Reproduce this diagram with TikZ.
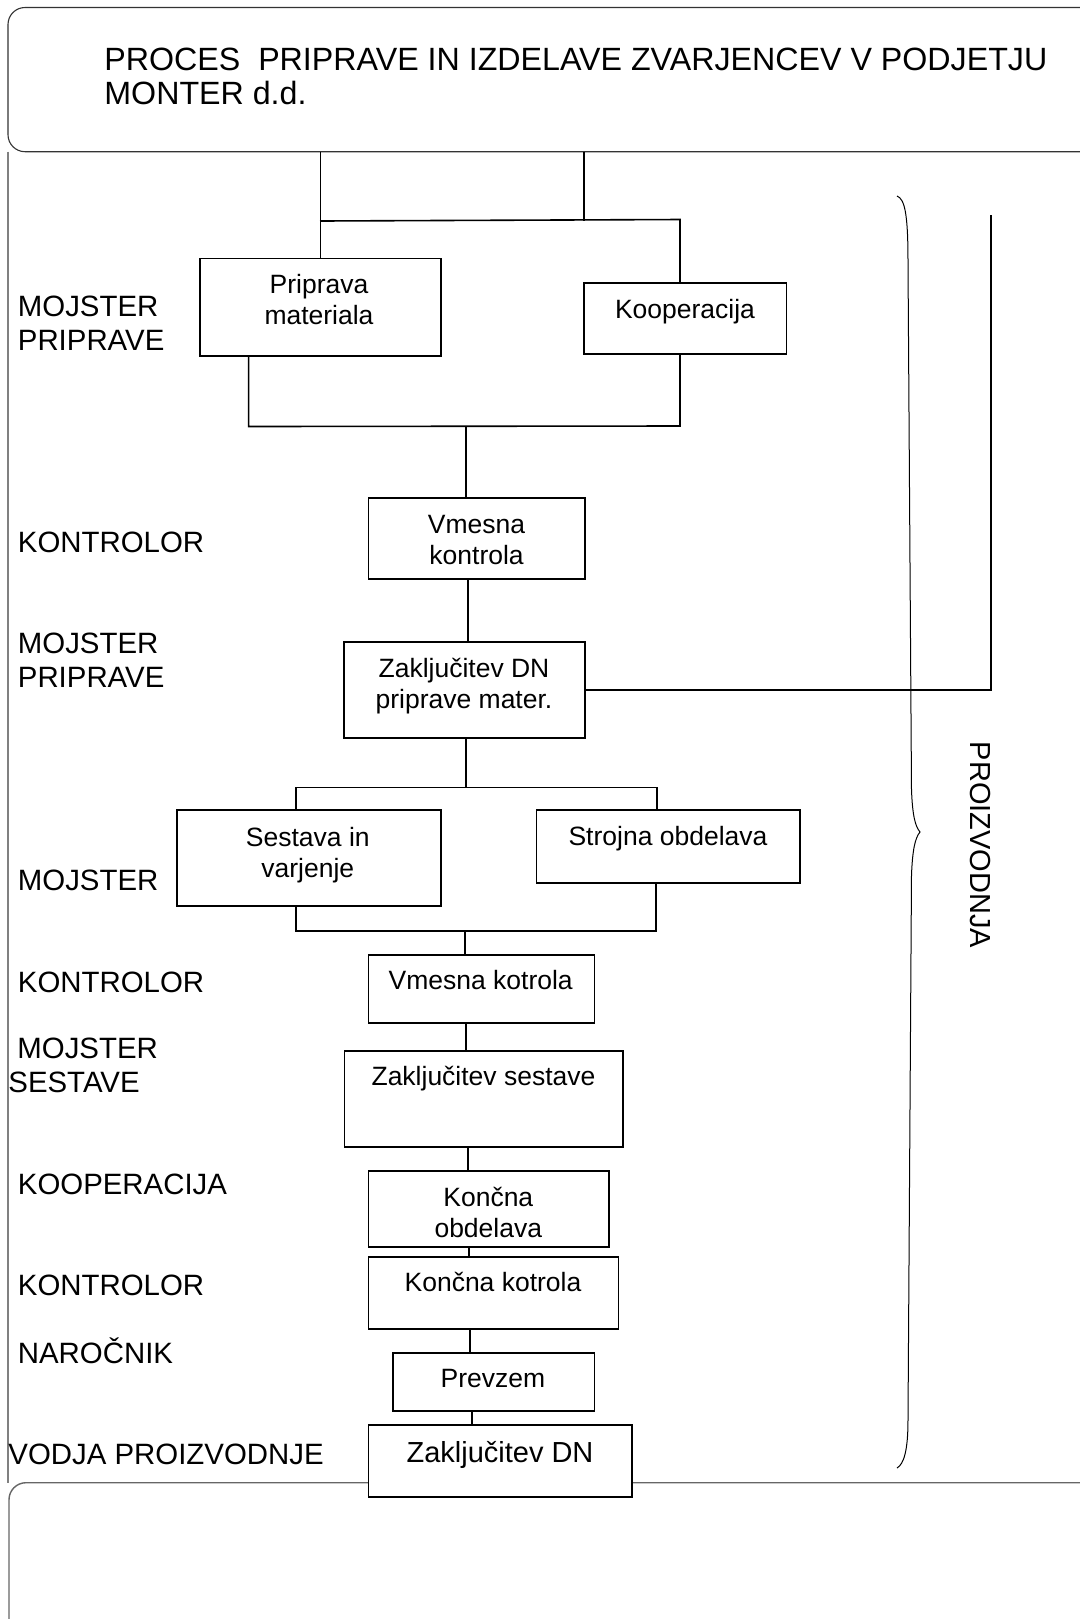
\documentclass[tikz,border=0pt]{standalone}
\usepackage{fontspec}
\setmainfont{Liberation Sans}
\usetikzlibrary{fit}
\begin{document}
\begin{tikzpicture}[x=0.5pt,y=-0.5pt,
  roundbox/.style={draw=black!80, line width=0.55pt, rounded corners=8.5pt, inner sep=0pt, outer sep=0pt},
  box/.style={draw=black, line width=0.9pt, fill=white, inner sep=0pt, outer sep=0pt},
  conn/.style={draw=black, line width=0.8pt},
  rline/.style={draw=black, line width=1pt},
  leftline/.style={draw=black!50, line width=0.6pt},
  brace/.style={draw=black, line width=0.5pt},
  btext/.style={font=\fontsize{13.25}{15.5}\selectfont, align=center, anchor=base, inner sep=0pt},
  lane/.style={font=\fontsize{14.7}{17}\selectfont, align=left, anchor=base west, inner sep=0pt},
  titletext/.style={font=\fontsize{16.1}{17}\selectfont, align=left, anchor=base west, inner sep=0pt}
]
\useasboundingbox (0,0) rectangle (1080,1619);
\fill[white] (0,0) rectangle (1080,1619);

% frame boxes
\begin{scope}
\clip (0,0) rectangle (1080,1619);
\node[roundbox, fit={(8,7.5) (1100,151.7)}] (title) {};
\node[roundbox, draw=black!60, line width=0.7pt, fit={(9,1482.7) (1100,1645)}] (bot) {};
\end{scope}
\draw[leftline] (title.south west) -- (title.south west |- bot.north);

% title (base anchor = baseline of last line)
\node[titletext] (ttl) at (104,104) {PROCES~ PRIPRAVE IN IZDELAVE ZVARJENCEV V PODJETJU\\MONTER d.d.};

% process boxes
\node[box, fit={(200,258.5) (441,355.7)}] (pm) {};
\node[box, fit={(584,282.7) (786.5,354)}] (kp) {};
\node[box, fit={(368.5,498.3) (584.7,579)}] (vk1) {};
\node[box, fit={(344,642.3) (584.7,738.3)}] (zdn1) {};
\node[box, fit={(177,810) (440.8,906)}] (ss) {};
\node[box, fit={(536.5,810) (800.3,882.7)}] (so) {};
\node[box, fit={(368.5,955) (594.4,1023.3)}] (vk2) {};
\node[box, fit={(344.4,1051) (622.6,1146.7)}] (zs) {};
\node[box, fit={(368.5,1171) (608.8,1246.7)}] (ko) {};
\node[box, fit={(368.5,1257) (618.5,1329.3)}] (kk) {};
\node[box, fit={(392.6,1352.7) (594.4,1410.7)}] (pr) {};
\node[box, fit={(368.5,1425.3) (632.2,1497.3)}] (zd) {};

% junction coordinates
\coordinate (j1) at (320,221);
\coordinate (j2) at (680,219.5);
\coordinate (j3) at (248.6,426.5);
\coordinate (j4) at (680,426);
\coordinate (j5) at (466,426.5);
\coordinate (rt) at (991,215);
\coordinate (j6) at (466,787.5);
\coordinate (j7) at (296,787.5);
\coordinate (j8) at (657,787.5);
\coordinate (j9) at (296,930.7);
\coordinate (j10) at (656,930.7);
\coordinate (j11) at (465,930.7);
\coordinate (x466) at (466,0);
\coordinate (x468) at (468,0);
\coordinate (x469) at (469,0);
\coordinate (x470) at (470,0);
\coordinate (x472) at (472,0);

% connectors
\draw[conn] (title.south -| pm.north) -- (pm.north);
\draw[conn] (title.south -| kp.west) -- (kp.west |- j1);
\draw[conn] (j1) -- (j2) -- (j2 |- kp.north);
\draw[conn] (pm.south -| j3) -- (j3) -- (j4) -- (j4 |- kp.south);
\draw[conn] (j5) -- (j5 |- vk1.north);
\draw[conn] (vk1.south -| x468) -- (zdn1.north -| x468);
\draw[rline] (zdn1.east) -- (zdn1.east -| rt) -- (rt);
\draw[conn] (zdn1.south -| j6) -- (j6);
\draw[conn] (ss.north -| j7) -- (j7) -- (j8) -- (so.north -| j8);
\draw[conn] (ss.south -| j9) -- (j9) -- (j10) -- (so.south -| j10);
\draw[conn] (j11) -- (vk2.north -| j11);
\draw[conn] (vk2.south -| x466) -- (zs.north -| x466);
\draw[conn] (zs.south -| x468) -- (ko.north -| x468);
\draw[conn] (ko.south -| x469) -- (kk.north -| x469);
\draw[conn] (kk.south -| x470) -- (pr.north -| x470);
\draw[conn] (pr.south -| x472) -- (zd.north -| x472);

% brace
\draw[brace] (897,196) .. controls (905,199) and (908,215) .. (908,262)
  -- (911.5,790) .. controls (912.5,815) and (915,826) .. (920,832)
  .. controls (915,838) and (912.5,850) .. (911.5,875)
  -- (908,1420) .. controls (908,1450) and (904,1464) .. (897,1468);
\node[font=\fontsize{14.5}{17}\selectfont, rotate=-90, inner sep=0pt] (proiz) at (980.7,845) {PROIZVODNJA};

% box texts (base anchor = baseline of last line)
\node[btext] (t-pm) at (319,324) {Priprava\\materiala};
\node[btext] (t-kp) at (685,318) {Kooperacija};
\node[btext] (t-vk1) at (476.6,564.3) {Vmesna\\kontrola};
\node[btext] (t-zdn1) at (464,708.3) {Zaključitev DN\\priprave mater.};
\node[btext] (t-ss) at (307.8,877) {Sestava in\\varjenje};
\node[btext] (t-so) at (668,845) {Strojna obdelava};
\node[btext] (t-vk2) at (480.7,989) {Vmesna kotrola};
\node[btext] (t-zs) at (483.5,1085.3) {Zaključitev sestave};
\node[btext] (t-ko) at (488.3,1237.5) {Končna\\obdelava};
\node[btext] (t-kk) at (493,1291) {Končna kotrola};
\node[btext] (t-pr) at (493,1387.3) {Prevzem};
\node[btext, font=\fontsize{14.5}{17}\selectfont] (t-zd) at (500,1462.7) {Zaključitev DN};

% lane labels
\node[lane] (l1) at (17.5,350.7) {MOJSTER\\PRIPRAVE};
\node[lane] (l2) at (17.5,552.7) {KONTROLOR};
\node[lane] (l3) at (17.5,687.3) {MOJSTER\\PRIPRAVE};
\node[lane] (l4) at (17.5,890) {MOJSTER};
\node[lane] (l5) at (17.5,992.3) {KONTROLOR};
\node[lane] (l6) at (8,1092.7) {\hspace{4.5pt}MOJSTER\\SESTAVE};
\node[lane] (l7) at (17.5,1194) {KOOPERACIJA};
\node[lane] (l8) at (17.5,1295) {KONTROLOR};
\node[lane] (l9) at (17.5,1363.3) {NAROČNIK};
\node[lane] (l10) at (8,1464) {VODJA PROIZVODNJE};
\end{tikzpicture}
\end{document}
